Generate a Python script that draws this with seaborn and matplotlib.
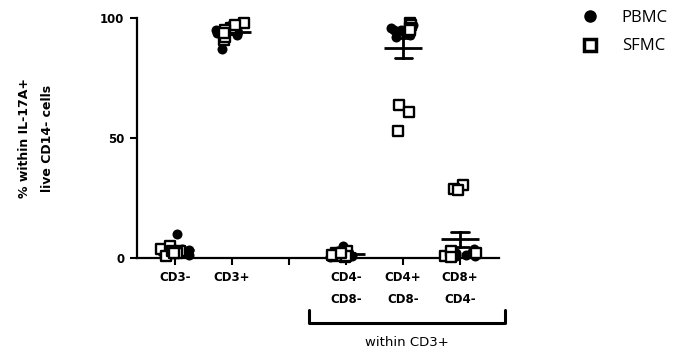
import matplotlib
matplotlib.use("Agg")
import matplotlib.pyplot as plt
from matplotlib.lines import Line2D
import numpy as np
import pandas as pd
import seaborn as sns

# ______________________________________________________________________________

categories = ["CD3-", "CD3+", " ", "CD4-\nCD8-", "CD4+\nCD8-", "CD8+\nCD4-"]

pbmc = {
    "CD3-": [10, 4, 3, 2, 1.5, 3.5, 2.5],
    "CD3+": [87, 94, 96, 95, 97, 93, 95],
    "CD4-\nCD8-": [1, 2, 0.5, 1.5, 3, 5, 1],
    "CD4+\nCD8-": [93, 95, 96, 94, 97, 92, 95],
    "CD8+\nCD4-": [2, 1, 3, 1.5, 4, 2.5, 1],
}
sfmc = {
    "CD3-": [4, 3, 2, 5, 1, 3, 2],
    "CD3+": [91, 92, 96, 98, 97, 95, 94],
    "CD4-\nCD8-": [0.5, 1, 2, 3, 1.5, 0.8, 2],
    "CD4+\nCD8-": [98, 97, 96, 95, 64, 61, 53],
    "CD8+\nCD4-": [30.5, 29, 28.5, 1, 3, 2, 0.5],
}

# ______________________________________________________________________________


def build_frame():
    rows = []
    for group, values in (("PBMC", pbmc), ("SFMC", sfmc)):
        for cat, vals in values.items():
            for v in vals:
                rows.append({"cell": cat, "group": group, "value": v})
    return pd.DataFrame(rows)


df = build_frame()
np.random.seed(3)

sns.set_style("ticks")
plt.rcParams["font.family"] = ["DejaVu Sans"]
plt.rcParams["text.color"] = "black"
plt.rcParams["xtick.color"] = "black"
plt.rcParams["ytick.color"] = "black"
plt.rcParams["axes.labelcolor"] = "black"

fig = plt.figure(figsize=(6.88, 3.56), dpi=100)
ax = fig.add_axes([0.199, 0.275, 0.526, 0.674])

# mean +/- SEM over both groups
sns.pointplot(
    data=df, x="cell", y="value", order=categories, errorbar="se",
    linestyle="none", marker="_", markersize=27, markeredgewidth=2,
    color="black", capsize=0.3, err_kws={"linewidth": 2}, ax=ax, zorder=1,
)

sns.stripplot(
    data=df[df["group"] == "PBMC"], x="cell", y="value", order=categories,
    color="black", marker="o", size=7.2, jitter=0.3, ax=ax, zorder=3,
)
sns.stripplot(
    data=df[df["group"] == "SFMC"], x="cell", y="value", order=categories,
    color="white", edgecolor="black", linewidth=1.7, marker="s", size=7.5,
    jitter=0.3, ax=ax, zorder=4,
)

for coll in ax.collections:
    coll.set_clip_on(False)
for line in ax.lines:
    line.set_clip_on(False)

ax.set_xlim(-0.67, 5.68)
ax.set_ylim(0, 100)
ax.set_yticks([0, 50, 100])
ax.set_xlabel("")
ax.set_ylabel("% within IL-17A+\nlive CD14- cells", fontsize=9,
              fontweight="bold", labelpad=33, linespacing=2.0)
ax.tick_params(axis="both", width=1.5, length=5, labelsize=8.5, pad=4)
for lab in ax.get_xticklabels() + ax.get_yticklabels():
    lab.set_fontweight("bold")
for lab in ax.get_xticklabels():
    lab.set_linespacing(1.9)
sns.despine(ax=ax)
for side in ("left", "bottom"):
    ax.spines[side].set_linewidth(1.6)
    ax.spines[side].set_color("black")

# bracket for "within CD3+"
trans = ax.get_xaxis_transform()
ax.plot([2.35, 2.35, 5.79, 5.79], [-0.217, -0.271, -0.271, -0.217],
        color="black", linewidth=2.2, transform=trans, clip_on=False)
ax.text(4.07, -0.35, "within CD3+", transform=trans, ha="center",
        va="center", fontsize=9.5)

handles = [
    Line2D([], [], linestyle="none", marker="o", markersize=8,
           color="black"),
    Line2D([], [], linestyle="none", marker="s", markersize=9,
           markerfacecolor="white", markeredgecolor="black",
           markeredgewidth=2.5),
]
fig.legend(handles, ["PBMC", "SFMC"], loc="upper left",
           bbox_to_anchor=(0.819, 1.0), frameon=False,
           prop={"family": "Open Sans", "size": 12}, handletextpad=0.9,
           labelspacing=0.75, borderaxespad=0.2)

fig.savefig("out.png", dpi=100)
